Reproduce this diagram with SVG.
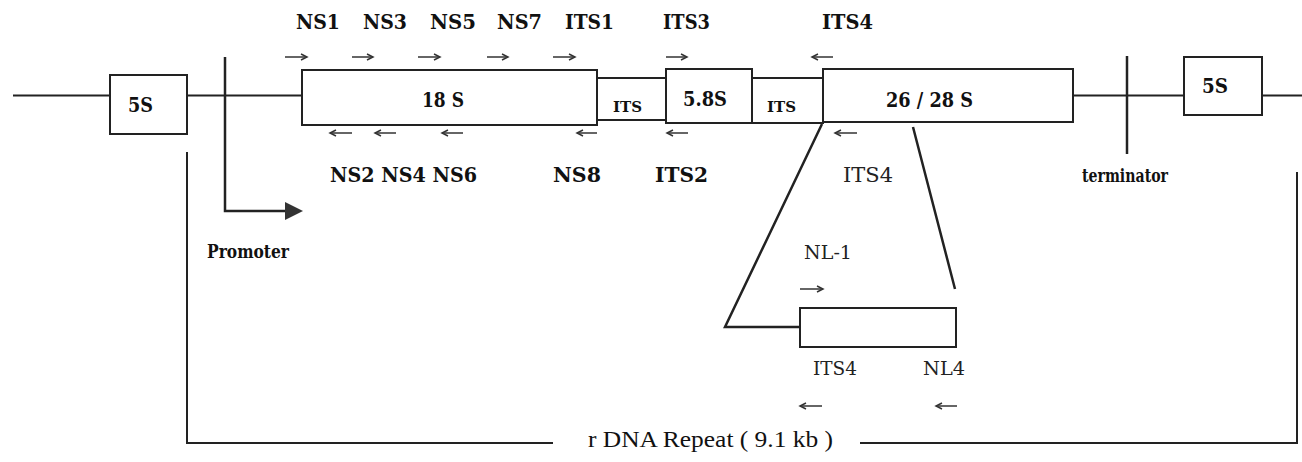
<svg xmlns="http://www.w3.org/2000/svg" width="1302" height="462" viewBox="0 0 1302 462">
<style>
.bx{fill:#fff;stroke:#222;stroke-width:2}
.ln{fill:none;stroke:#222;stroke-width:2}
.th{fill:none;stroke:#222;stroke-width:2.5}
.pr{fill:none;stroke:#333;stroke-width:1.5;marker-end:url(#ah)}
.b{font-family:"DejaVu Serif","Liberation Serif",serif;font-weight:bold;fill:#111}
.r{font-family:"DejaVu Serif","Liberation Serif",serif;fill:#222}
.t{font-family:"Liberation Serif","DejaVu Serif",serif;fill:#111}
</style>
<defs>
<marker id="ah" markerUnits="userSpaceOnUse" markerWidth="10" markerHeight="8" refX="7" refY="4" orient="auto">
<path d="M1,1 L7,4 L1,7" fill="none" stroke="#333" stroke-width="1.5"/>
</marker>
</defs>
<rect width="1302" height="462" fill="#fff"/>
<g id="connectors">
<path class="ln" d="M13,95.5 H110 M187,95.5 H302 M1073,95.5 H1184 M1262,95.5 H1302"/>
<path class="th" d="M225,57 V211 H287"/>
<polygon points="285,202 303,211 285,220" fill="#333"/>
<path class="th" d="M1127,56 V154"/>
<path class="ln" d="M187,152 V443 H553 M860,443 H1297 V172"/>
<path class="th" d="M822,124 L725,327 H800 M913,127 L955,289"/>
</g>
<g id="primers">
<path class="pr" d="M285,57 H307"/>
<path class="pr" d="M352,57 H373"/>
<path class="pr" d="M418,57 H440"/>
<path class="pr" d="M487,57 H508"/>
<path class="pr" d="M553,57 H575"/>
<path class="pr" d="M666,57 H687"/>
<path class="pr" d="M833,57 H812"/>
<path class="pr" d="M352,133 H330"/>
<path class="pr" d="M396,133 H375"/>
<path class="pr" d="M463,133 H442"/>
<path class="pr" d="M597,133 H577"/>
<path class="pr" d="M688,133 H667"/>
<path class="pr" d="M857,133 H835"/>
<path class="pr" d="M800,289 H823"/>
<path class="pr" d="M822,406 H800"/>
<path class="pr" d="M957,406 H936"/>
</g>
<g id="n5S-left"><rect class="bx" x="110" y="75" width="77" height="59"/><text class="b" x="128" y="112" font-size="20" textLength="25" lengthAdjust="spacingAndGlyphs">5S</text></g>
<g id="n18S"><rect class="bx" x="302" y="70" width="295" height="55"/><text class="b" x="422" y="107" font-size="21" textLength="42" lengthAdjust="spacingAndGlyphs">18 S</text></g>
<g id="nITS1"><rect class="bx" x="597" y="78" width="69" height="42"/><text class="b" x="613" y="112" font-size="14" textLength="29" lengthAdjust="spacingAndGlyphs">ITS</text></g>
<g id="n58S"><rect class="bx" x="666" y="69" width="86" height="54"/><text class="b" x="683" y="106" font-size="21" textLength="44" lengthAdjust="spacingAndGlyphs">5.8S</text></g>
<g id="nITS2"><rect class="bx" x="752" y="78" width="71" height="45"/><text class="b" x="767" y="112" font-size="14" textLength="29" lengthAdjust="spacingAndGlyphs">ITS</text></g>
<g id="n2628S"><rect class="bx" x="823" y="69" width="250" height="53"/><text class="b" x="886" y="107" font-size="21" textLength="87" lengthAdjust="spacingAndGlyphs">26 / 28 S</text></g>
<g id="n5S-right"><rect class="bx" x="1184" y="57" width="78" height="58"/><text class="b" x="1202" y="93" font-size="20" textLength="26" lengthAdjust="spacingAndGlyphs">5S</text></g>
<g id="nLSU-detail"><rect class="bx" x="800" y="308" width="156" height="39"/></g>
<g id="labels">
<text class="b" x="296" y="29" font-size="20" textLength="44" lengthAdjust="spacingAndGlyphs">NS1</text>
<text class="b" x="363" y="29" font-size="20" textLength="44" lengthAdjust="spacingAndGlyphs">NS3</text>
<text class="b" x="430" y="29" font-size="20" textLength="46" lengthAdjust="spacingAndGlyphs">NS5</text>
<text class="b" x="497" y="29" font-size="20" textLength="45" lengthAdjust="spacingAndGlyphs">NS7</text>
<text class="b" x="565" y="29" font-size="20" textLength="49" lengthAdjust="spacingAndGlyphs">ITS1</text>
<text class="b" x="663" y="29" font-size="20" textLength="47" lengthAdjust="spacingAndGlyphs">ITS3</text>
<text class="b" x="822" y="29" font-size="20" textLength="51" lengthAdjust="spacingAndGlyphs">ITS4</text>
<text class="b" x="330" y="182" font-size="20" textLength="147" lengthAdjust="spacingAndGlyphs">NS2 NS4 NS6</text>
<text class="b" x="553" y="182" font-size="20" textLength="48" lengthAdjust="spacingAndGlyphs">NS8</text>
<text class="b" x="655" y="182" font-size="20" textLength="53" lengthAdjust="spacingAndGlyphs">ITS2</text>
<text class="r" x="843" y="182" font-size="20" textLength="50" lengthAdjust="spacingAndGlyphs">ITS4</text>
<text class="b" x="1082" y="182" font-size="19" textLength="86" lengthAdjust="spacingAndGlyphs">terminator</text>
<text class="b" x="207" y="258" font-size="18" textLength="82" lengthAdjust="spacingAndGlyphs">Promoter</text>
<text class="r" x="804" y="259" font-size="19" textLength="48" lengthAdjust="spacingAndGlyphs">NL-1</text>
<text class="r" x="813" y="375" font-size="19" textLength="44" lengthAdjust="spacingAndGlyphs">ITS4</text>
<text class="r" x="923" y="375" font-size="19" textLength="42" lengthAdjust="spacingAndGlyphs">NL4</text>
<text class="t" x="588" y="447" font-size="24" textLength="245" lengthAdjust="spacingAndGlyphs">r DNA Repeat ( 9.1 kb )</text>
</g>
</svg>
